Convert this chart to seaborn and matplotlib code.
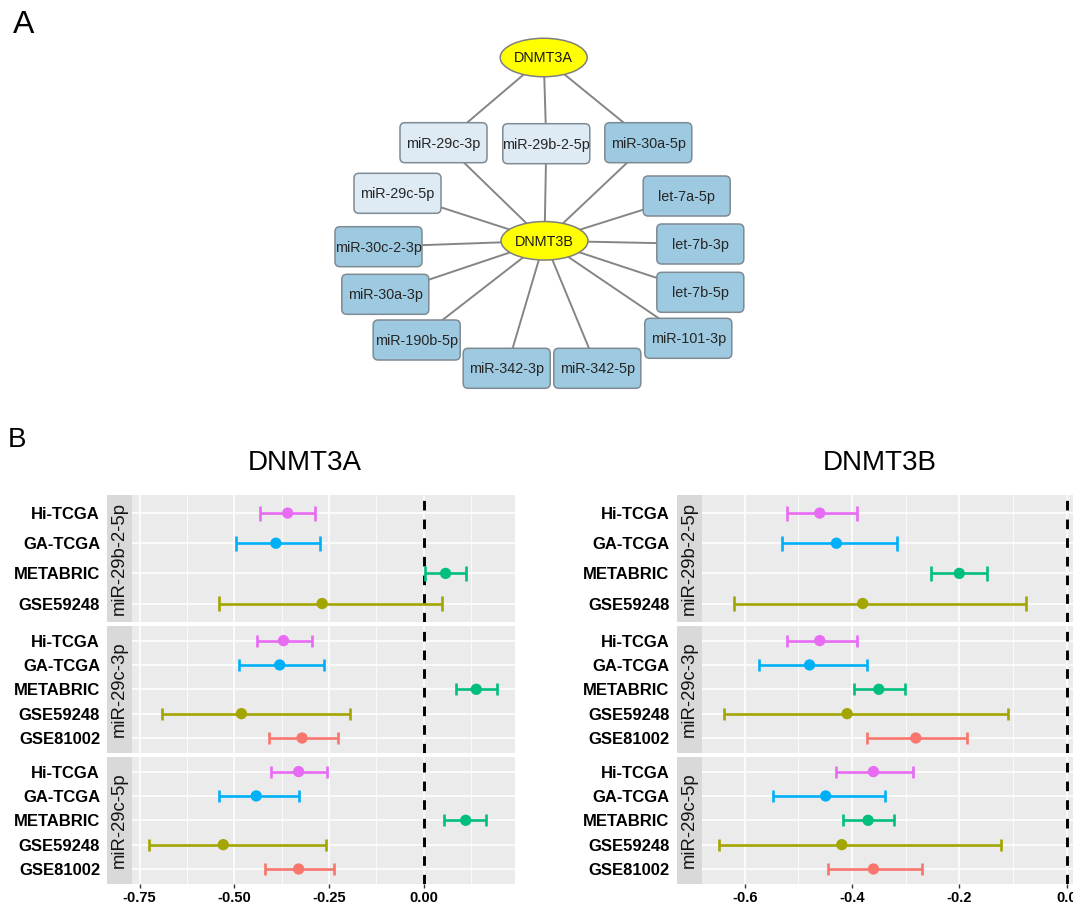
import numpy as np
import pandas as pd
import matplotlib
matplotlib.use("Agg")
import matplotlib.pyplot as plt
import seaborn as sns
from matplotlib.patches import FancyBboxPatch, Ellipse, Rectangle
from matplotlib.ticker import MultipleLocator, FormatStrFormatter

# ---------------------------------------------------------------- data
genes = ["DNMT3A", "DNMT3B"]
mirnas = ["miR-29b-2-5p", "miR-29c-3p", "miR-29c-5p"]
cohorts = ["Hi-TCGA", "GA-TCGA", "METABRIC", "GSE59248", "GSE81002"]
cohort_colors = ["#E76BF3", "#00B0F6", "#00BF7D", "#A3A500", "#F8766D"]

# correlation estimate with lower / upper 95% CI, cohorts in the order above
dnmt3a_29b_est = [-0.359, -0.390, 0.058, -0.268]
dnmt3a_29b_lo = [-0.431, -0.496, 0.004, -0.540]
dnmt3a_29b_hi = [-0.286, -0.273, 0.112, 0.049]
dnmt3a_29c3_est = [-0.370, -0.380, 0.139, -0.481, -0.321]
dnmt3a_29c3_lo = [-0.440, -0.488, 0.085, -0.691, -0.409]
dnmt3a_29c3_hi = [-0.295, -0.262, 0.194, -0.194, -0.227]
dnmt3a_29c5_est = [-0.330, -0.442, 0.111, -0.529, -0.330]
dnmt3a_29c5_lo = [-0.402, -0.540, 0.055, -0.724, -0.418]
dnmt3a_29c5_hi = [-0.255, -0.329, 0.164, -0.259, -0.236]

dnmt3b_29b_est = [-0.460, -0.429, -0.200, -0.380]
dnmt3b_29b_lo = [-0.522, -0.531, -0.252, -0.619]
dnmt3b_29b_hi = [-0.391, -0.317, -0.149, -0.075]
dnmt3b_29c3_est = [-0.460, -0.479, -0.350, -0.409, -0.281]
dnmt3b_29c3_lo = [-0.522, -0.573, -0.397, -0.639, -0.372]
dnmt3b_29c3_hi = [-0.391, -0.372, -0.301, -0.110, -0.185]
dnmt3b_29c5_est = [-0.360, -0.449, -0.370, -0.419, -0.360]
dnmt3b_29c5_lo = [-0.430, -0.548, -0.416, -0.648, -0.445]
dnmt3b_29c5_hi = [-0.286, -0.339, -0.322, -0.122, -0.269]

# network: miRNAs linked to each methyltransferase
hub_nodes = ["DNMT3A", "DNMT3B"]
mirna_nodes = ["miR-29c-3p", "miR-29b-2-5p", "miR-30a-5p", "miR-29c-5p",
               "let-7a-5p", "miR-30c-2-3p", "let-7b-3p", "miR-30a-3p",
               "let-7b-5p", "miR-190b-5p", "miR-101-3p", "miR-342-3p",
               "miR-342-5p"]
dnmt3a_targets = ["miR-29c-3p", "miR-29b-2-5p", "miR-30a-5p"]
dnmt3b_targets = list(mirna_nodes)
mir29_family = ["miR-29c-3p", "miR-29b-2-5p", "miR-29c-5p"]

# ---------------------------------------------------------------- style
sns.set_theme(style="white")
plt.rcParams["font.family"] = ["Liberation Sans", "DejaVu Sans"]

FW, FH = 1073, 905
fig = plt.figure(figsize=(FW / 100, FH / 100), dpi=100)


def fx(px):
    return px / FW


def fy(py):
    return 1 - py / FH


# ---------------------------------------------------------------- panel A
net_h = 410
ax_net = fig.add_axes([0, fy(net_h), 1, net_h / FH])
ax_net.set_xlim(0, FW)
ax_net.set_ylim(net_h, 0)
ax_net.axis("off")

# node layout (pixel units of the network canvas)
layout = {
    "DNMT3A": (543.7, 57.5), "DNMT3B": (544.5, 240.8),
    "miR-29c-3p": (443.5, 142.7), "miR-29b-2-5p": (546.3, 143.7),
    "miR-30a-5p": (648.3, 142.7), "miR-29c-5p": (397.5, 193.3),
    "let-7a-5p": (686.7, 196.0), "miR-30c-2-3p": (378.5, 246.7),
    "let-7b-3p": (700.3, 244.0), "miR-30a-3p": (385.3, 294.3),
    "let-7b-5p": (700.3, 292.3), "miR-190b-5p": (416.7, 340.0),
    "miR-101-3p": (688.3, 338.3), "miR-342-3p": (506.7, 368.3),
    "miR-342-5p": (597.3, 368.3),
}

edges = [("DNMT3A", m) for m in dnmt3a_targets] + \
        [("DNMT3B", m) for m in dnmt3b_targets]
for a, b in edges:
    (x0, y0), (x1, y1) = layout[a], layout[b]
    ax_net.plot([x0, x1], [y0, y1], color="#858585", lw=1.4, zorder=1,
                solid_capstyle="butt")

box_w, box_h, box_r = 87, 40, 5
for m in mirna_nodes:
    cx, cy = layout[m]
    face = "#deebf5" if m in mir29_family else "#9ecae1"
    patch = FancyBboxPatch((cx - box_w / 2 + box_r, cy - box_h / 2 + box_r),
                           box_w - 2 * box_r, box_h - 2 * box_r,
                           boxstyle=f"round,pad={box_r}", facecolor=face,
                           edgecolor="#7f8a93", lw=1.1, zorder=2)
    ax_net.add_patch(patch)
    ax_net.text(cx, cy + 1, m, ha="center", va="center", fontsize=10.4,
                color="#262626", zorder=3)

for h in hub_nodes:
    cx, cy = layout[h]
    ax_net.add_patch(Ellipse((cx, cy), 87, 38.5, facecolor="#ffff00",
                             edgecolor="#7f7f7f", lw=1.1, zorder=2))
    ax_net.text(cx, cy + 1, h, ha="center", va="center", fontsize=10.4,
                color="#1a1a1a", zorder=3)

fig.text(fx(24), fy(25), "A", fontsize=23, ha="center", va="center",
         color="black")
fig.text(fx(17), fy(440), "B", fontsize=20, ha="center", va="center",
         color="black")

# ---------------------------------------------------------------- panel B
panel_sets = {
    ("DNMT3A", "miR-29b-2-5p"): (dnmt3a_29b_est, dnmt3a_29b_lo, dnmt3a_29b_hi),
    ("DNMT3A", "miR-29c-3p"): (dnmt3a_29c3_est, dnmt3a_29c3_lo, dnmt3a_29c3_hi),
    ("DNMT3A", "miR-29c-5p"): (dnmt3a_29c5_est, dnmt3a_29c5_lo, dnmt3a_29c5_hi),
    ("DNMT3B", "miR-29b-2-5p"): (dnmt3b_29b_est, dnmt3b_29b_lo, dnmt3b_29b_hi),
    ("DNMT3B", "miR-29c-3p"): (dnmt3b_29c3_est, dnmt3b_29c3_lo, dnmt3b_29c3_hi),
    ("DNMT3B", "miR-29c-5p"): (dnmt3b_29c5_est, dnmt3b_29c5_lo, dnmt3b_29c5_hi),
}

records = []
for (gene, mir), (est, lo, hi) in panel_sets.items():
    for i, (e, l, u) in enumerate(zip(est, lo, hi)):
        records.append(dict(gene=gene, mirna=mir, cohort=cohorts[i],
                            pos=i, est=e, lo=l, hi=u))
df = pd.DataFrame(records)
palette = dict(zip(cohorts, cohort_colors))

panel_left = {"DNMT3A": 132, "DNMT3B": 701.5}
panel_w = 382.5
facet_top = [495, 626, 757]
facet_h = 126.6
strip_w = 25
title_x = {"DNMT3A": 305, "DNMT3B": 880}
tick_step = {"DNMT3A": 0.25, "DNMT3B": 0.2}
tick_fmt = {"DNMT3A": "%.2f", "DNMT3B": "%.1f"}

for gene in genes:
    gdf = df[df.gene == gene]
    lo_lim = min(gdf.lo.min(), 0.0)
    hi_lim = max(gdf.hi.max(), 0.0)
    span = hi_lim - lo_lim
    xlim = (lo_lim - 0.05 * span, hi_lim + 0.05 * span)

    fig.text(fx(title_x[gene]), fy(463), gene, fontsize=20, ha="center",
             va="center", color="black")

    for k, mir in enumerate(mirnas):
        sub = gdf[gdf.mirna == mir]
        n = len(sub)
        ax = fig.add_axes([fx(panel_left[gene]), fy(facet_top[k] + facet_h),
                           panel_w / FW, facet_h / FH])
        ax.set_facecolor("#ebebeb")
        for s in ax.spines.values():
            s.set_visible(False)
        ax.set_xlim(*xlim)
        ax.set_ylim(n - 1 + 0.6, -0.6)

        ax.xaxis.set_major_locator(MultipleLocator(tick_step[gene]))
        ax.xaxis.set_minor_locator(MultipleLocator(tick_step[gene] / 2))
        ax.xaxis.set_major_formatter(FormatStrFormatter(tick_fmt[gene]))
        ax.grid(which="major", axis="x", color="white", lw=1.1)
        ax.grid(which="minor", axis="x", color="white", lw=0.55)
        ax.set_yticks(sub.pos.values)
        ax.set_yticklabels(sub.cohort.values)
        ax.grid(which="major", axis="y", color="white", lw=1.1)
        ax.set_axisbelow(True)

        ax.tick_params(axis="y", length=0, pad=23, labelsize=12,
                       labelcolor="black")
        for t in ax.get_yticklabels():
            t.set_fontweight("bold")
        if k == len(mirnas) - 1:
            ax.tick_params(axis="x", which="major", length=3, width=1,
                           color="#333333", labelsize=10.5, pad=2,
                           labelcolor="black", bottom=True)
            ax.tick_params(axis="x", which="minor", length=0)
            for t in ax.get_xticklabels():
                t.set_fontweight("bold")
        else:
            ax.tick_params(axis="x", which="both", length=0,
                           labelbottom=False)

        ax.axvline(0, color="black", lw=2.1, ls=(0, (3.3, 3.1)), zorder=2)

        # confidence intervals with end caps
        for _, r in sub.iterrows():
            c = palette[r.cohort]
            ax.hlines(r.pos, r.lo, r.hi, color=c, lw=1.9, zorder=3)
            ax.vlines([r.lo, r.hi], r.pos - 0.25, r.pos + 0.25, color=c,
                      lw=1.9, zorder=3)
        sns.scatterplot(data=sub, x="est", y="pos", hue="cohort",
                        palette=palette, s=66, edgecolor="none",
                        legend=False, ax=ax, zorder=4)
        ax.set_xlabel("")
        ax.set_ylabel("")

        # facet strip placed between the labels and the panel
        ax.add_patch(Rectangle((-strip_w / panel_w, 0), strip_w / panel_w, 1,
                               transform=ax.transAxes, facecolor="#d9d9d9",
                               edgecolor="none", clip_on=False, zorder=1))
        ax.text(-strip_w / panel_w / 2, 0.5, mir, transform=ax.transAxes,
                rotation=90, ha="center", va="center", fontsize=13.3,
                color="#141414")

fig.savefig("out.png", dpi=100, facecolor="white")
